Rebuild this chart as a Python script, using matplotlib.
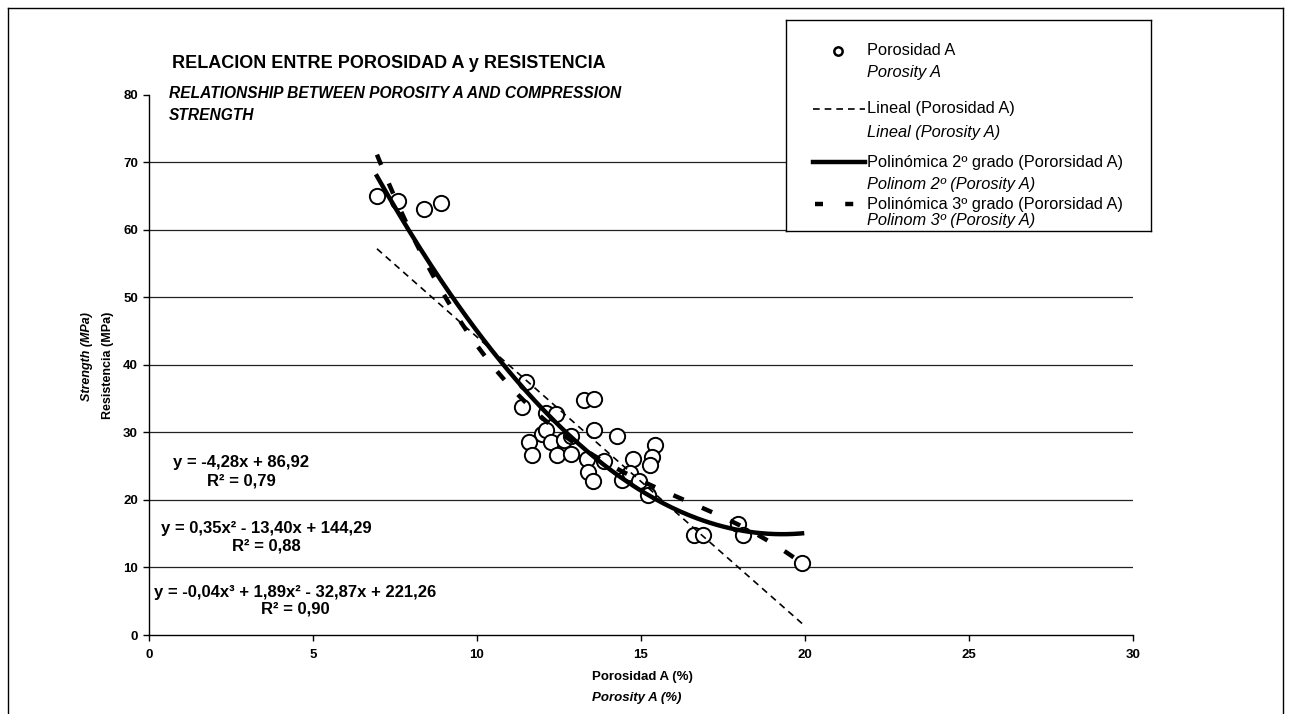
import numpy as np
import matplotlib
matplotlib.use('Agg')
import matplotlib.pyplot as plt
from matplotlib.lines import Line2D

plt.rcParams['font.family'] = ['Liberation Sans', 'DejaVu Sans']

# porosity A (%) and compression strength (MPa) of the samples
porosity = [6.95, 7.59, 8.37, 8.89,
            11.50, 11.38, 13.26, 13.56, 12.11, 12.41, 11.99, 12.11, 11.58, 11.68,
            12.26, 12.64, 12.87, 12.43, 12.87, 13.56, 14.27, 13.35, 13.87, 13.38,
            13.55, 14.41, 14.75, 14.67, 14.95, 15.44, 15.34, 15.26, 15.21,
            16.63, 16.90, 17.95, 18.10, 19.91]
strength = [65.0, 64.3, 63.0, 63.9,
            37.5, 33.7, 34.8, 35.0, 32.8, 32.7, 29.8, 30.3, 28.5, 26.6,
            28.6, 28.8, 29.4, 26.6, 26.8, 30.3, 29.5, 26.0, 25.8, 24.1,
            22.8, 22.9, 26.0, 24.0, 22.8, 28.1, 26.3, 25.2, 20.7,
            14.8, 14.8, 16.5, 14.8, 10.7]

# trendline coefficients (highest power first) and their R^2
lin_coefs = [-4.28, 86.92]
quad_coefs = [0.347, -13.40, 144.29]
cubic_coefs = [-0.0387, 1.89, -32.87, 221.26]
r2_values = [0.79, 0.88, 0.90]

x_ticks = [0, 5, 10, 15, 20, 25, 30]
y_ticks = [0, 10, 20, 30, 40, 50, 60, 70, 80]

W, H = 1291, 714


def fx(px):
    return px / W


def fy(py):
    return 1 - py / H


def num(v):
    return ('%.2f' % v).replace('.', ',')


def eq_text(coefs, r2):
    sup = {1: '', 2: '²', 3: '³'}
    deg = len(coefs) - 1
    parts = []
    for i, c in enumerate(coefs):
        p = deg - i
        term = num(abs(c)) + ('x' + sup[p] if p > 0 else '')
        if i == 0:
            parts.append(('-' if c < 0 else '') + term)
        else:
            parts.append(('- ' if c < 0 else '+ ') + term)
    return 'y = ' + ' '.join(parts) + '\nR² = ' + num(r2)


fig = plt.figure(figsize=(W / 100, H / 100), dpi=100)
ax = fig.add_axes([fx(149), fy(635), (1133 - 149) / W, (635 - 94.6) / H])

ax.set_xlim(0, 30)
ax.set_ylim(0, 80)
ax.set_xticks(x_ticks)
ax.set_yticks(y_ticks)
for s in ['top', 'right']:
    ax.spines[s].set_visible(False)
for s in ['left', 'bottom']:
    ax.spines[s].set_linewidth(1.0)
ax.tick_params(direction='out', length=4, width=1, labelsize=9.5)
ax.tick_params(axis='x', pad=6)
ax.tick_params(axis='y', pad=4)
for lab in ax.get_xticklabels() + ax.get_yticklabels():
    lab.set_fontweight('bold')

ax.hlines(y_ticks[1:-1], 0, 30, color='#222222', lw=0.9, zorder=1)

ax.plot(porosity, strength, 'o', ms=11, mfc='white', mec='black', mew=1.4, zorder=3)

xs = np.linspace(min(porosity), max(porosity), 200)
ax.plot(xs, np.polyval(lin_coefs, xs), color='black', lw=1.2, ls=(0, (4, 3)), zorder=4)
ax.plot(xs, np.polyval(quad_coefs, xs), color='black', lw=3.2, zorder=4)
ax.plot(xs, np.polyval(cubic_coefs, xs), color='black', lw=3.2, ls=(0, (2.5, 4.5)), zorder=4)

# equation labels
eq_pos = [(241, 472, 1.25), (266, 537, 1.25), (295, 601, 1.15)]
for coefs, r2, (px, py, ls) in zip([lin_coefs, quad_coefs, cubic_coefs], r2_values, eq_pos):
    fig.text(fx(px), fy(py), eq_text(coefs, r2), ha='center', va='center',
             multialignment='center', fontsize=12, fontweight='bold', linespacing=ls)

# titles
fig.text(fx(172), fy(63), 'RELACION ENTRE POROSIDAD A y RESISTENCIA',
         fontsize=13, fontweight='bold', va='center')
fig.text(fx(169), fy(93), 'RELATIONSHIP BETWEEN POROSITY A AND COMPRESSION',
         fontsize=11.2, fontweight='bold', style='italic', va='center')
fig.text(fx(169), fy(115), 'STRENGTH',
         fontsize=11.2, fontweight='bold', style='italic', va='center')

fig.text(fx(592), fy(677), 'Porosidad A (%)', fontsize=9.5, fontweight='bold', va='center')
fig.text(fx(592), fy(698), 'Porosity A (%)', fontsize=9.5, fontweight='bold',
         style='italic', va='center')
fig.text(fx(87), fy(312), 'Strength (MPa)', fontsize=9, fontweight='bold', style='italic',
         rotation=90, ha='center', va='top')
fig.text(fx(108), fy(312), 'Resistencia (MPa)', fontsize=9, fontweight='bold',
         rotation=90, ha='center', va='top')

# legend box
lax = fig.add_axes([fx(786), fy(231), (1151 - 786) / W, (231 - 20) / H])
lax.set_xlim(786, 1151)
lax.set_ylim(231, 20)
lax.set_xticks([])
lax.set_yticks([])
for s in lax.spines.values():
    s.set_linewidth(1.0)

lax.plot([838], [51], 'o', ms=6, mfc='white', mec='black', mew=1.8)
lax.plot([813, 865], [109, 109], color='black', lw=1.2, ls=(0, (4, 3)))
lax.plot([813, 865], [162, 162], color='black', lw=3.2)
lax.plot([815, 856], [204, 204], color='black', lw=3.2, ls=(0, (1.8, 5)))

leg_rows = [('Porosidad A', 'Porosity A', 51, 73),
            ('Lineal (Porosidad A)', 'Lineal (Porosity A)', 109, 132),
            ('Polinómica 2º grado (Pororsidad A)', 'Polinom 2º (Porosity A)', 162, 185),
            ('Polinómica 3º grado (Pororsidad A)', 'Polinom 3º (Porosity A)', 204, 221)]
for main, sub, y1, y2 in leg_rows:
    lax.text(867, y1, main, fontsize=11.8, va='center')
    lax.text(867, y2, sub, fontsize=11.8, style='italic', va='center')

# outer frame
for xx, yy in [([8, 8], [714, 8]), ([8, 1283], [8, 8]), ([1283, 1283], [8, 714])]:
    fig.add_artist(Line2D([fx(v) for v in xx], [fy(v) for v in yy],
                          transform=fig.transFigure, color='black', lw=1.0))

fig.savefig('out.png', dpi=100)
